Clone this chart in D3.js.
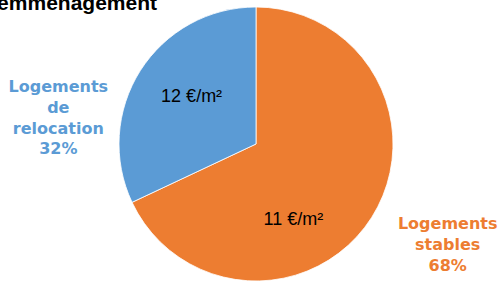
<!DOCTYPE html>
<html>
<head>
<meta charset="utf-8">
<script src="https://cdn.jsdelivr.net/npm/d3@7"></script>
<style>
  body { margin: 0; background: #fff; }
  svg { display: block; }
</style>
</head>
<body>
<div id="chart"></div>
<script>
// data
var categories = ["Logements stables", "Logements de relocation"];
var shares = [68, 32];
var prices = ["11 €/m²", "12 €/m²"];
var labelLines = [["Logements", "stables", "68%"], ["Logements", "de", "relocation", "32%"]];
var colors = ["#ED7D31", "#5B9BD5"];

var width = 499, height = 281;
var cx = 256, cy = 144, radius = 137;

var svg = d3.select("#chart").append("svg")
    .attr("width", width).attr("height", height);

// title, cut by the left edge like in the source
svg.append("text")
    .attr("x", 157).attr("y", 10)
    .attr("text-anchor", "end")
    .style("font-family", "'Liberation Sans', Arial, sans-serif")
    .style("font-weight", "bold").style("font-size", "21px")
    .text("Loyer moyen au réemménagement");

var pie = d3.pie().sort(null).value(d => d)(shares);
var arc = d3.arc().innerRadius(0).outerRadius(radius);

var g = svg.append("g").attr("transform", "translate(" + cx + "," + cy + ")");

g.selectAll("path").data(pie).enter().append("path")
    .attr("d", arc)
    .attr("fill", (d, i) => colors[i])
    .attr("stroke", "#fff").attr("stroke-width", 0.8);

// price labels inside slices (Excel-like placement, offset from the centroid)
var inner = d3.arc().innerRadius(radius * 0.6).outerRadius(radius * 0.6);
var innerShift = [[-32, 31], [5, -4]];
g.selectAll(".price").data(pie).enter().append("text")
    .attr("class", "price")
    .attr("x", (d, i) => inner.centroid(d)[0] + innerShift[i][0])
    .attr("y", (d, i) => inner.centroid(d)[1] + innerShift[i][1])
    .attr("text-anchor", "middle")
    .attr("dy", "0.35em")
    .style("font-family", "'Liberation Sans', Arial, sans-serif")
    .style("font-size", "18px")
    .attr("fill", "#000")
    .text((d, i) => prices[i]);

// outside category labels
var outer = d3.arc().innerRadius(radius * 1.45).outerRadius(radius * 1.45);
var outerShift = [[24, -6], [-30, 80]];
pie.forEach(function(d, i) {
    var c = outer.centroid(d);
    var lines = labelLines[i];
    var lh = 20.7;
    var t = g.append("text")
        .attr("text-anchor", "middle")
        .style("font-family", "'DejaVu Sans', Verdana, sans-serif")
        .style("font-weight", "bold").style("font-size", "16px")
        .attr("fill", colors[i]);
    lines.forEach(function(s, j) {
        t.append("tspan")
            .attr("x", c[0] + outerShift[i][0])
            .attr("y", c[1] + outerShift[i][1] + (j - (lines.length - 1) / 2) * lh)
            .attr("dy", "0.35em")
            .text(s);
    });
});
</script>
</body>
</html>
